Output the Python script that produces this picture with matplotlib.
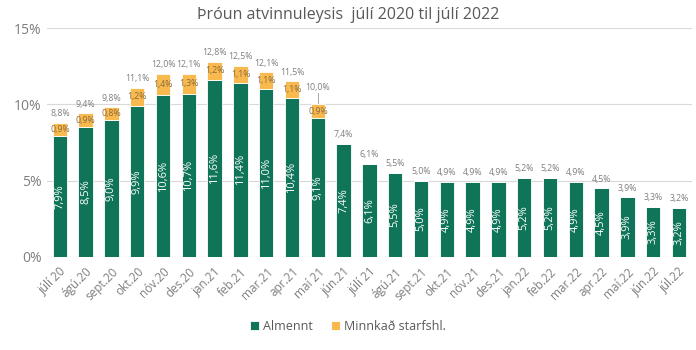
import numpy as np
import matplotlib.pyplot as plt

plt.rcParams['font.family'] = ['Open Sans', 'DejaVu Sans']

# Gögn: atvinnuleysi eftir mánuðum
manudir = ["júlí 20", "ágú.20", "sept.20", "okt.20", "nóv.20", "des.20",
           "jan.21", "feb.21", "mar.21", "apr.21", "maí 21", "jún.21",
           "júlí 21", "ágú.21", "sept.21", "okt.21", "nóv.21", "des.21",
           "jan.22", "feb.22", "mar.22", "apr.22", "maí.22", "jún.22", "júl.22"]
almennt = [7.9, 8.5, 9.0, 9.9, 10.6, 10.7, 11.6, 11.4, 11.0, 10.4, 9.1, 7.4,
           6.1, 5.5, 5.0, 4.9, 4.9, 4.9, 5.2, 5.2, 4.9, 4.5, 3.9, 3.3, 3.2]
minnkad = [0.9, 0.9, 0.8, 1.2, 1.4, 1.3, 1.2, 1.1, 1.1, 1.1, 0.9, 0,
           0, 0, 0, 0, 0, 0, 0, 0, 0, 0, 0, 0, 0]
samtals = [8.8, 9.4, 9.8, 11.1, 12.0, 12.1, 12.8, 12.5, 12.1, 11.5, 10.0, 7.4,
           6.1, 5.5, 5.0, 4.9, 4.9, 4.9, 5.2, 5.2, 4.9, 4.5, 3.9, 3.3, 3.2]

graenn = '#0f7458'
gulur = '#f8b94f'
grar = '#7f7f7f'

def pct(v):
    return f"{v:.1f}%".replace('.', ',')

fig = plt.figure(figsize=(6.96, 3.5), dpi=100)
ax = fig.add_axes([0.0675, 0.266, 0.9265, 0.654])

x = np.arange(len(manudir))
b = np.array(almennt)
m = np.array(minnkad)
ax.bar(x, b, width=0.56, color=graenn, edgecolor='white', linewidth=0.6, zorder=3, label='Almennt')
ax.bar(x, m, width=0.56, bottom=b, color=gulur, edgecolor='white', linewidth=0.6, zorder=3,
       label='Minnkað starfshl.')

for i in range(len(x)):
    ax.text(x[i], b[i] / 2, pct(b[i]), rotation=90, ha='center', va='center',
            color='white', fontsize=8, zorder=4)
    if m[i] > 0:
        ax.text(x[i], b[i] + m[i] / 2, pct(m[i]), ha='center', va='center',
                color='#8a6a3a', fontsize=6.3, zorder=4)
    top = b[i] + m[i]
    if i == 10:
        # merki fært upp með leiðarlínu
        ax.plot([x[i], x[i]], [top + 0.1, top + 0.75], color='#a6a6a6', lw=0.7, zorder=4)
        ax.text(x[i], top + 1.1, pct(samtals[i]), ha='center', va='center',
                color=grar, fontsize=6.3, zorder=4)
    else:
        ax.text(x[i], top + 0.6, pct(samtals[i]), ha='center', va='center',
                color=grar, fontsize=6.3, zorder=4)

ax.set_ylim(0, 15)
ax.set_xlim(-0.5, len(x) - 0.5)
ax.set_yticks([0, 5, 10, 15])
ax.set_yticklabels(['0%', '5%', '10%', '15%'], color=grar, fontsize=10)
ax.set_xticks(x)
ax.set_xticklabels(manudir, rotation=45, ha='right', rotation_mode='anchor',
                   color=grar, fontsize=8.5)
ax.tick_params(axis='both', length=0, pad=4)
ax.tick_params(axis='x', pad=6)
ax.grid(axis='y', color='#d9d9d9', linewidth=0.8, zorder=0)
for s in ax.spines.values():
    s.set_visible(False)

fig.text(0.5, 0.958, 'Þróun atvinnuleysis  júlí 2020 til júlí 2022', ha='center', va='center',
         color='#595959', fontsize=11.5)
fig.legend(loc='center', bbox_to_anchor=(0.5, 0.068), ncol=2, frameon=False,
           fontsize=9, handlelength=0.7, handleheight=0.7, handletextpad=0.3,
           columnspacing=1.5, labelcolor='#595959')

fig.savefig('out.png', dpi=100)
